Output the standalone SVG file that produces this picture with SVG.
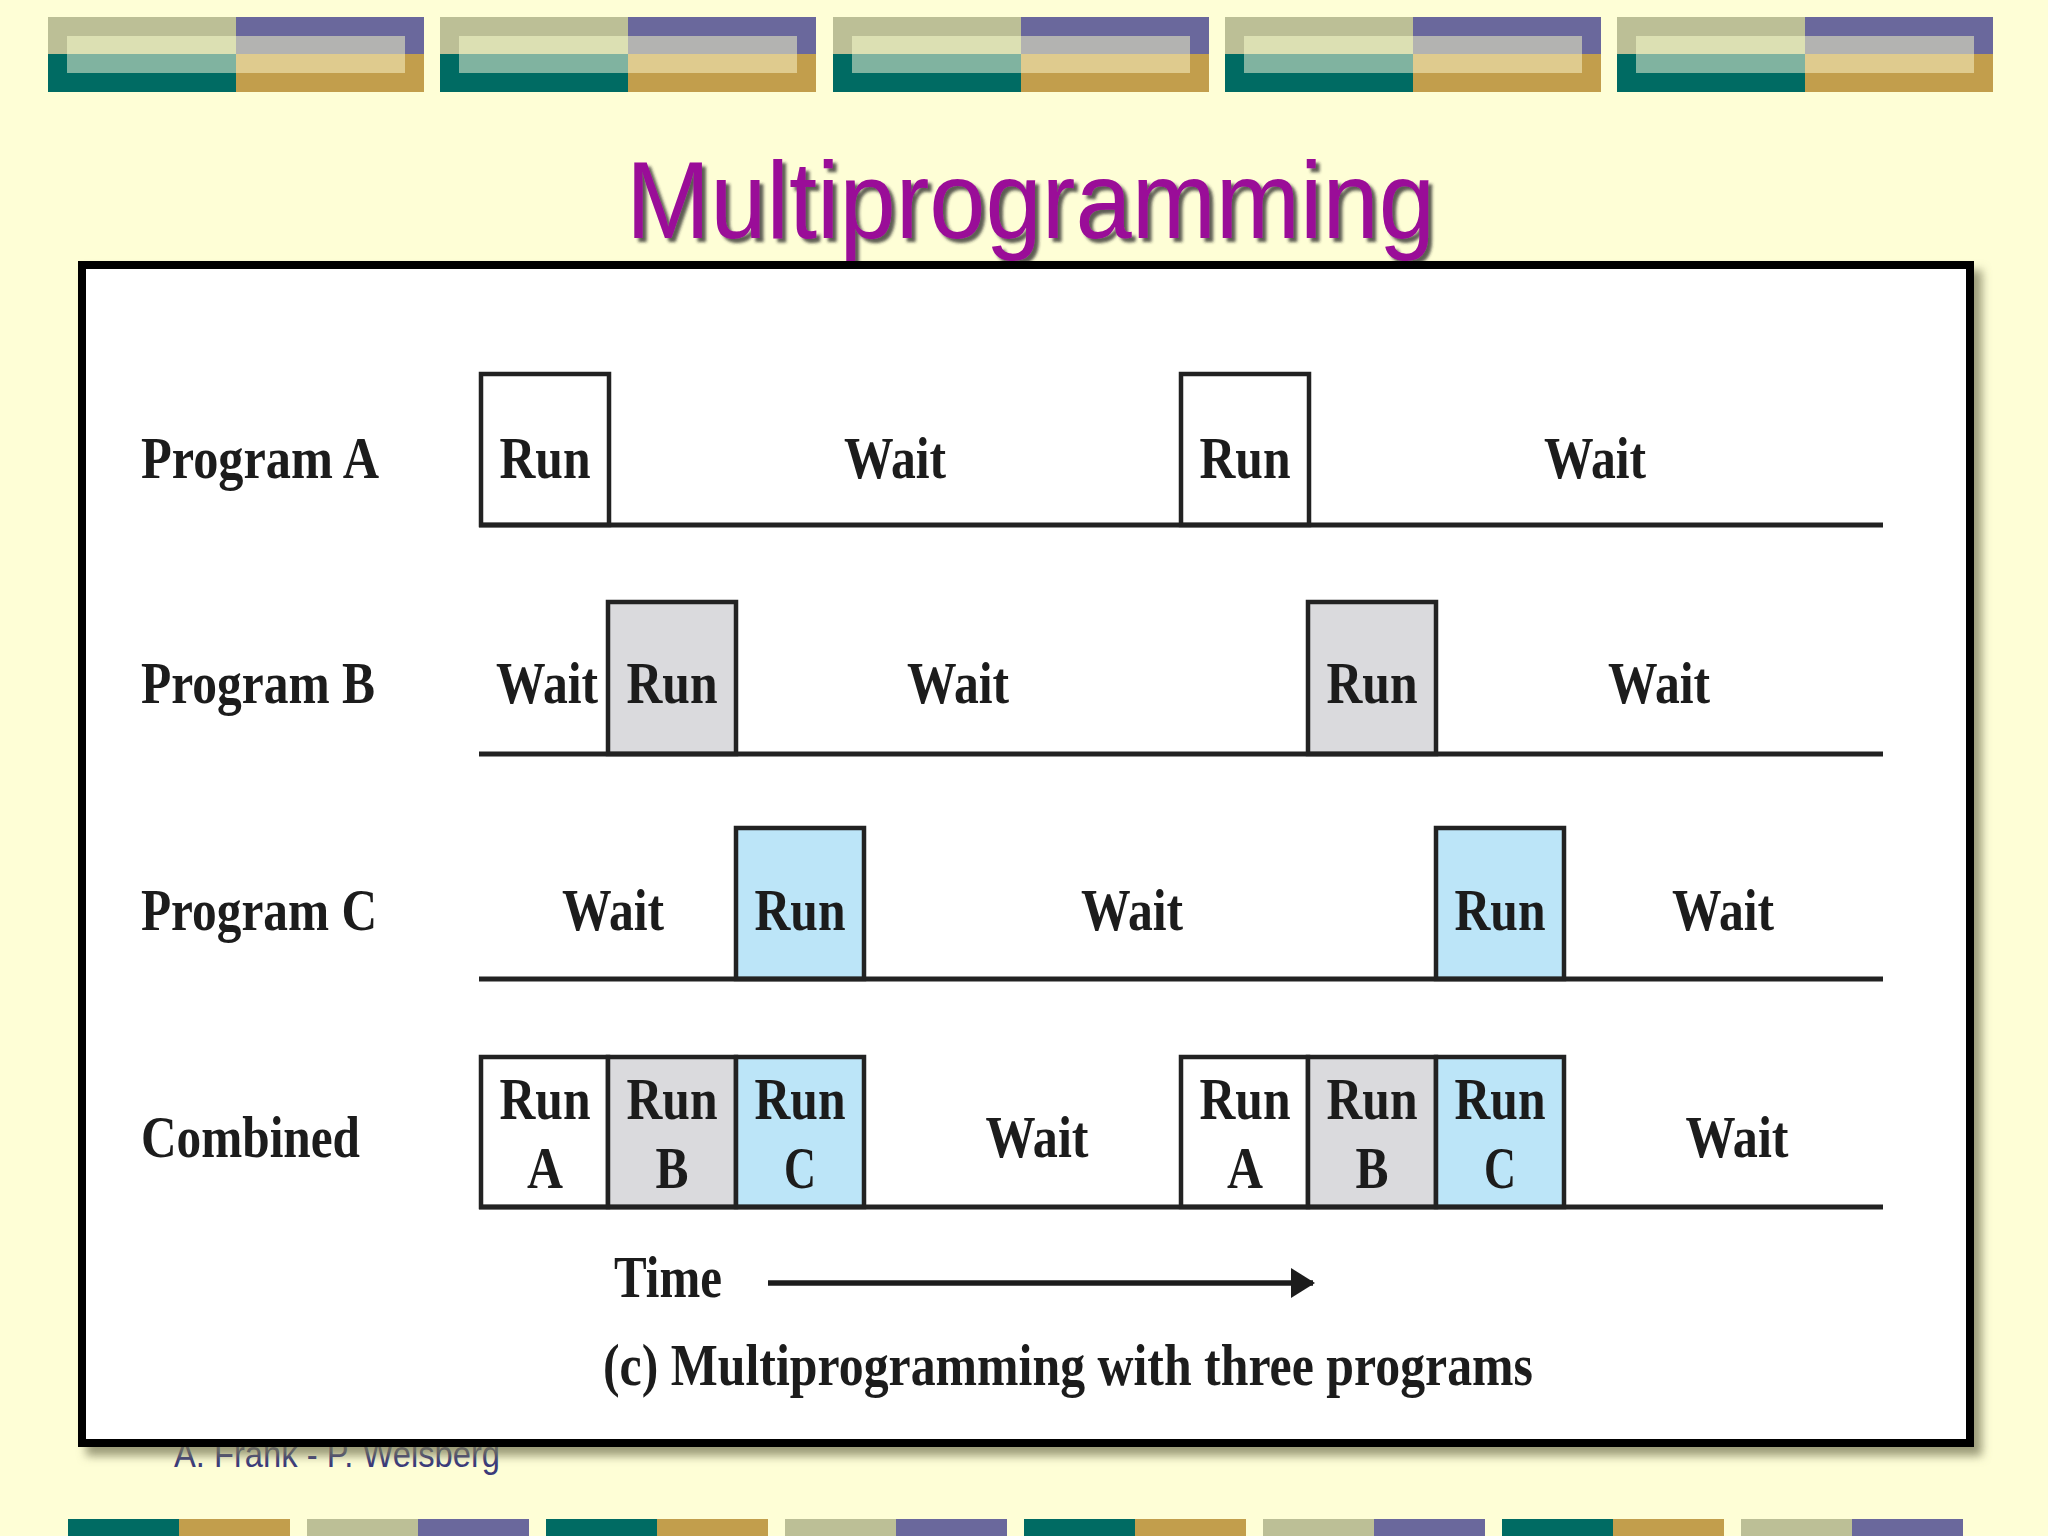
<svg xmlns="http://www.w3.org/2000/svg" width="2048" height="1536" viewBox="0 0 2048 1536">
<defs>
  <style>
    .lbl{font-family:"Liberation Serif","Times New Roman",serif;font-weight:bold;font-size:60px;fill:#1c1c1c;text-anchor:middle}
    .row{font-family:"Liberation Serif","Times New Roman",serif;font-weight:bold;font-size:60px;fill:#1c1c1c}
    .box{stroke:#222;stroke-width:4.5}
    .w{fill:#fff}
    .g{fill:#dadadd}
    .b{fill:#bce5f8}
    .tl{stroke:#222;stroke-width:5;fill:none}
    .k{fill:#bcbf96}.p{fill:#6a689c}.t{fill:#006b63}.o{fill:#c29e4c}
    .k2{fill:#dce0b3}.p2{fill:#b3b3b1}.t2{fill:#80b3a0}.o2{fill:#dfcb8e}
  </style>
  <filter id="tsh" x="-5%" y="-20%" width="110%" height="140%">
    <feDropShadow dx="4" dy="4" stdDeviation="1.5" flood-color="#2a2a2a" flood-opacity="0.75"/>
  </filter>
  <filter id="bsh" x="-5%" y="-5%" width="110%" height="110%">
    <feDropShadow dx="8" dy="9" stdDeviation="5" flood-color="#7c7c5c" flood-opacity="0.75"/>
  </filter>
  <g id="band">
    <rect class="k" x="0" y="17" width="188" height="37"/>
    <rect class="t" x="0" y="54" width="188" height="38"/>
    <rect class="p" x="188" y="17" width="188" height="37"/>
    <rect class="o" x="188" y="54" width="188" height="38"/>
    <rect class="k2" x="19" y="36" width="169" height="18"/>
    <rect class="t2" x="19" y="54" width="169" height="19"/>
    <rect class="p2" x="188" y="36" width="169" height="18"/>
    <rect class="o2" x="188" y="54" width="169" height="19"/>
  </g>
  <marker id="ah" viewBox="0 0 24 30" refX="22" refY="15" markerWidth="24" markerHeight="30" markerUnits="userSpaceOnUse" orient="auto">
    <path d="M0,0 L24,15 L0,30 Z" fill="#1c1c1c"/>
  </marker>
</defs>
<rect width="2048" height="1536" fill="#fefed6"/>

<g id="top-banner">
  <use href="#band" x="48"/>
  <use href="#band" x="440"/>
  <use href="#band" x="833"/>
  <use href="#band" x="1225"/>
  <use href="#band" x="1617"/>
</g>

<g id="bottom-strips">
  <rect class="t" x="68" y="1519" width="111" height="17"/><rect class="o" x="179" y="1519" width="111" height="17"/>
  <rect class="k" x="307" y="1519" width="111" height="17"/><rect class="p" x="418" y="1519" width="111" height="17"/>
  <rect class="t" x="546" y="1519" width="111" height="17"/><rect class="o" x="657" y="1519" width="111" height="17"/>
  <rect class="k" x="785" y="1519" width="111" height="17"/><rect class="p" x="896" y="1519" width="111" height="17"/>
  <rect class="t" x="1024" y="1519" width="111" height="17"/><rect class="o" x="1135" y="1519" width="111" height="17"/>
  <rect class="k" x="1263" y="1519" width="111" height="17"/><rect class="p" x="1374" y="1519" width="111" height="17"/>
  <rect class="t" x="1502" y="1519" width="111" height="17"/><rect class="o" x="1613" y="1519" width="111" height="17"/>
  <rect class="k" x="1741" y="1519" width="111" height="17"/><rect class="p" x="1852" y="1519" width="111" height="17"/>
</g>

<text id="footer" x="174" y="1467" font-family="Liberation Sans, Arial, sans-serif" font-size="36" fill="#3b3b7a" textLength="326" lengthAdjust="spacingAndGlyphs">A. Frank - P. Weisberg</text>

<text id="title" x="626" y="238" font-family="Liberation Sans, Arial, sans-serif" font-size="110" fill="#9a0a98" textLength="809" lengthAdjust="spacingAndGlyphs" filter="url(#tsh)">Multiprogramming</text>

<rect id="frame" x="82" y="265" width="1888" height="1178" fill="#fff" stroke="#000" stroke-width="8" filter="url(#bsh)"/>

<g id="labels">
  <text id="lbl-a" class="row" x="141" y="478" textLength="238" lengthAdjust="spacingAndGlyphs">Program A</text>
  <text id="lbl-b" class="row" x="141" y="703" textLength="234" lengthAdjust="spacingAndGlyphs">Program B</text>
  <text id="lbl-c" class="row" x="141" y="930" textLength="236" lengthAdjust="spacingAndGlyphs">Program C</text>
  <text id="lbl-comb" class="row" x="141" y="1157" textLength="219" lengthAdjust="spacingAndGlyphs">Combined</text>
</g>

<g id="row-a">
  <g id="a-run1"><rect class="box w" x="481" y="374" width="128" height="151"/><text class="lbl" x="545" y="478" textLength="91" lengthAdjust="spacingAndGlyphs">Run</text></g>
  <text id="a-wait1" class="lbl" x="895" y="478" textLength="102" lengthAdjust="spacingAndGlyphs">Wait</text>
  <g id="a-run2"><rect class="box w" x="1181" y="374" width="128" height="151"/><text class="lbl" x="1245" y="478" textLength="91" lengthAdjust="spacingAndGlyphs">Run</text></g>
  <text id="a-wait2" class="lbl" x="1595" y="478" textLength="102" lengthAdjust="spacingAndGlyphs">Wait</text>
</g>

<g id="row-b">
  <text id="b-wait1" class="lbl" x="547" y="703" textLength="102" lengthAdjust="spacingAndGlyphs">Wait</text>
  <g id="b-run1"><rect class="box g" x="608" y="602" width="128" height="152"/><text class="lbl" x="672" y="703" textLength="91" lengthAdjust="spacingAndGlyphs">Run</text></g>
  <text id="b-wait2" class="lbl" x="958" y="703" textLength="102" lengthAdjust="spacingAndGlyphs">Wait</text>
  <g id="b-run2"><rect class="box g" x="1308" y="602" width="128" height="152"/><text class="lbl" x="1372" y="703" textLength="91" lengthAdjust="spacingAndGlyphs">Run</text></g>
  <text id="b-wait3" class="lbl" x="1659" y="703" textLength="102" lengthAdjust="spacingAndGlyphs">Wait</text>
</g>

<g id="row-c">
  <text id="c-wait1" class="lbl" x="613" y="930" textLength="102" lengthAdjust="spacingAndGlyphs">Wait</text>
  <g id="c-run1"><rect class="box b" x="736" y="828" width="128" height="151"/><text class="lbl" x="800" y="930" textLength="91" lengthAdjust="spacingAndGlyphs">Run</text></g>
  <text id="c-wait2" class="lbl" x="1132" y="930" textLength="102" lengthAdjust="spacingAndGlyphs">Wait</text>
  <g id="c-run2"><rect class="box b" x="1436" y="828" width="128" height="151"/><text class="lbl" x="1500" y="930" textLength="91" lengthAdjust="spacingAndGlyphs">Run</text></g>
  <text id="c-wait3" class="lbl" x="1723" y="930" textLength="102" lengthAdjust="spacingAndGlyphs">Wait</text>
</g>

<g id="row-combined">
  <g id="m-runa1"><rect class="box w" x="481" y="1057" width="127" height="150"/><text class="lbl" x="545" y="1119" textLength="91" lengthAdjust="spacingAndGlyphs">Run</text><text class="lbl" x="545" y="1188" textLength="36" lengthAdjust="spacingAndGlyphs">A</text></g>
  <g id="m-runb1"><rect class="box g" x="608" y="1057" width="128" height="150"/><text class="lbl" x="672" y="1119" textLength="91" lengthAdjust="spacingAndGlyphs">Run</text><text class="lbl" x="672" y="1188" textLength="33" lengthAdjust="spacingAndGlyphs">B</text></g>
  <g id="m-runc1"><rect class="box b" x="736" y="1057" width="128" height="150"/><text class="lbl" x="800" y="1119" textLength="91" lengthAdjust="spacingAndGlyphs">Run</text><text class="lbl" x="800" y="1188" textLength="32" lengthAdjust="spacingAndGlyphs">C</text></g>
  <text id="m-wait1" class="lbl" x="1037" y="1157" textLength="103" lengthAdjust="spacingAndGlyphs">Wait</text>
  <g id="m-runa2"><rect class="box w" x="1181" y="1057" width="127" height="150"/><text class="lbl" x="1245" y="1119" textLength="91" lengthAdjust="spacingAndGlyphs">Run</text><text class="lbl" x="1245" y="1188" textLength="36" lengthAdjust="spacingAndGlyphs">A</text></g>
  <g id="m-runb2"><rect class="box g" x="1308" y="1057" width="128" height="150"/><text class="lbl" x="1372" y="1119" textLength="91" lengthAdjust="spacingAndGlyphs">Run</text><text class="lbl" x="1372" y="1188" textLength="33" lengthAdjust="spacingAndGlyphs">B</text></g>
  <g id="m-runc2"><rect class="box b" x="1436" y="1057" width="128" height="150"/><text class="lbl" x="1500" y="1119" textLength="91" lengthAdjust="spacingAndGlyphs">Run</text><text class="lbl" x="1500" y="1188" textLength="32" lengthAdjust="spacingAndGlyphs">C</text></g>
  <text id="m-wait2" class="lbl" x="1737" y="1157" textLength="103" lengthAdjust="spacingAndGlyphs">Wait</text>
</g>

<g id="connectors">
  <line class="tl" x1="479" y1="525" x2="1883" y2="525"/>
  <line class="tl" x1="479" y1="754" x2="1883" y2="754"/>
  <line class="tl" x1="479" y1="979" x2="1883" y2="979"/>
  <line class="tl" x1="479" y1="1207" x2="1883" y2="1207"/>
  <line id="time-arrow" x1="768" y1="1283" x2="1313" y2="1283" stroke="#1c1c1c" stroke-width="5.5" marker-end="url(#ah)"/>
</g>

<text id="time" class="row" x="614" y="1297" textLength="108" lengthAdjust="spacingAndGlyphs">Time</text>
<text id="caption" class="row" x="603" y="1385" textLength="930" lengthAdjust="spacingAndGlyphs">(c) Multiprogramming with three programs</text>
</svg>
